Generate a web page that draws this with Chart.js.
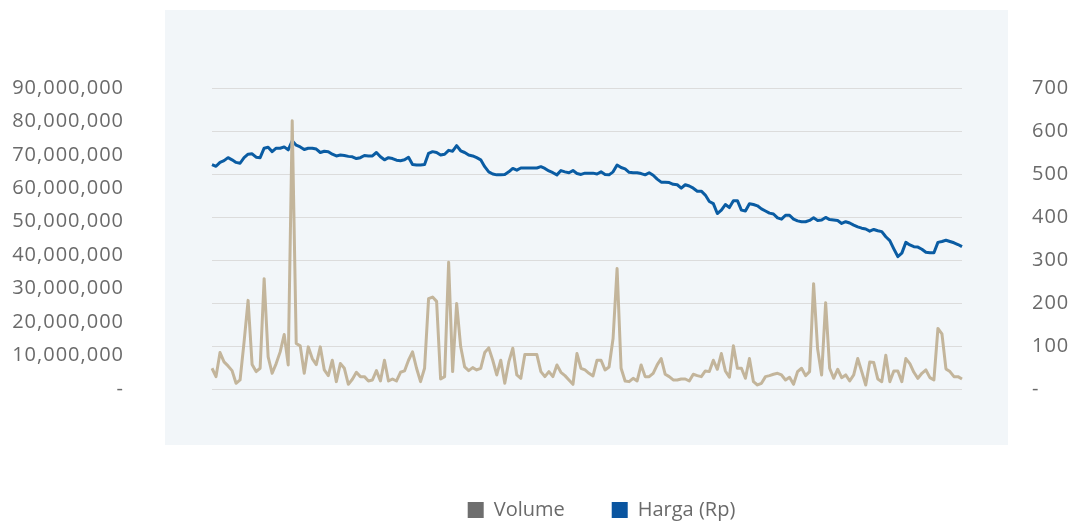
<!DOCTYPE html>
<html><head><meta charset="utf-8">
<script src="https://cdn.jsdelivr.net/npm/chart.js@4.4.1/dist/chart.umd.min.js"></script>
<style>html,body{margin:0;padding:0;background:#fff;overflow:hidden}#wrap{width:1071px;height:521px;position:relative}</style>
</head><body><div id="wrap"><canvas id="c"></canvas></div>
<script>
// Volume in millions of shares
const volumeMillions = [
  6.2,3.7,10.9,8.1,6.9,5.5,1.7,2.7,14.1,26.5,7.3,5.2,6.2,33.0,9.6,4.7,7.6,11.1,16.3,7.2,80.2,13.6,12.9,4.7,12.6,9.1,7.3,12.6,5.7,4.0,8.6,
  2.2,7.6,6.2,1.4,2.9,5.0,3.7,3.7,2.4,2.7,5.5,2.4,8.6,2.4,3.0,2.4,5.0,5.4,8.6,11.1,6.2,2.2,6.2,27.0,27.5,26.2,3.0,3.7,37.9,5.2,25.6,
  12.7,6.6,5.5,6.4,5.7,6.2,10.9,12.3,8.6,4.2,8.6,1.7,8.1,12.2,4.2,3.2,10.3,10.3,10.3,10.3,5.2,3.7,5.2,3.7,7.2,5.0,4.0,2.7,1.4,10.6,6.2,
  5.7,4.7,3.9,8.6,8.6,5.7,6.6,15.1,36.0,6.2,2.4,2.2,3.2,2.4,7.2,3.7,3.7,4.7,7.2,9.1,4.4,3.7,2.7,2.7,3.0,3.0,2.4,4.4,4.0,3.7,5.4,
  5.2,8.6,5.9,10.6,5.4,3.5,12.9,6.2,6.2,3.2,9.1,2.2,1.2,1.7,3.7,4.0,4.4,4.7,4.2,2.7,3.5,1.4,5.2,6.2,4.0,5.2,31.5,12.0,4.2,25.8,6.2,
  3.2,5.9,3.4,4.2,2.4,4.2,9.1,5.2,1.2,8.1,7.9,3.0,2.2,10.1,2.2,5.4,5.4,2.2,9.1,7.6,5.0,3.2,4.7,5.7,3.4,2.7,18.1,16.5,6.0,5.2,3.7,3.7,3.0
];
// Price (Rp)
const priceRp = [
  522,518,527,531,538,533,527,525,538,546,547,539,538,560,562,552,560,560,563,556,577,567,563,557,560,560,558,550,553,552,546,
  542,544,543,541,540,536,538,543,542,542,550,540,533,538,536,532,531,533,539,522,521,521,522,548,552,550,544,546,555,553,566,
  554,550,544,542,538,533,517,505,500,498,498,499,505,513,509,514,514,514,514,514,517,513,507,503,498,508,505,503,508,501,499,
  502,502,502,500,505,499,498,505,521,515,512,504,503,503,501,498,503,497,488,481,481,480,476,475,467,475,472,467,460,460,451,
  436,431,408,416,429,422,438,438,416,414,431,429,426,419,414,409,407,398,395,404,404,395,391,389,389,392,398,392,393,399,394,
  393,392,385,389,386,381,377,374,372,367,371,368,366,354,345,326,308,316,341,335,331,330,325,318,317,317,341,343,346,343,340,336,331
];
const tradingDays = volumeMillions.map((_, i) => String(i + 1));
const volumeTickValues = [0,10000000,20000000,30000000,40000000,50000000,60000000,70000000,80000000,90000000];
const priceTickValues = [0,100,200,300,400,500,600,700];
const seriesNames = ['Volume', 'Harga (Rp)'];

const FONT = {family: "'Open Sans', 'Noto Sans', sans-serif", size: 20};
const TEXT = '#6a6a6a';
const fmt = v => v === 0 ? '-' : Number(v).toLocaleString('en-US');

const panelPlugin = {
  id: 'panel',
  beforeDraw(chart) {
    const {ctx, chartArea: a} = chart;
    ctx.save();
    ctx.fillStyle = '#f2f6f9';
    const l = a.left - 47, t = a.top - 78, r = a.right + 46, b = a.bottom + 56;
    ctx.fillRect(l, t, r - l, b - t);
    ctx.restore();
  }
};
const legendShift = {
  id: 'legendShift',
  afterLayout(chart) {
    const lg = chart.legend;
    if (lg) { lg.top += 9; lg.bottom += 9; lg.left += 66; lg.right += 66; }
  }
};
const spacedAxisText = {
  id: 'spacedAxisText',
  afterUpdate(chart) {
    ['yVol', 'yPrice'].forEach(id => {
      const s = chart.scales[id];
      if (s && !s._spaced) {
        const orig = s.drawLabels.bind(s);
        s.drawLabels = function (area) {
          const ctx = this.ctx; ctx.save();
          try { ctx.letterSpacing = '1px'; } catch (e) {}
          orig(area); ctx.restore();
        };
        s._spaced = true;
      }
    });
  }
};

new Chart(document.getElementById('c'), {
  type: 'line',
  data: {
    labels: tradingDays,
    datasets: [
      {label: seriesNames[0], data: volumeMillions.map(v => v * 1e6), yAxisID: 'yVol',
       borderColor: '#c3b59b', backgroundColor: '#6e6e6e', borderWidth: 3, pointRadius: 0,
       tension: 0, borderJoinStyle: 'round', fill: false},
      {label: seriesNames[1], data: priceRp, yAxisID: 'yPrice',
       borderColor: '#0a5ca3', backgroundColor: '#0a55a0', borderWidth: 3, pointRadius: 0,
       tension: 0, borderJoinStyle: 'round', fill: false}
    ]
  },
  options: {
    responsive: true, maintainAspectRatio: false, animation: false,
    layout: {padding: {top: 88, left: 0, right: 0, bottom: 0}},
    plugins: {
      tooltip: {enabled: false},
      legend: {
        position: 'bottom',
        labels: {
          font: FONT, color: TEXT, boxWidth: 16, boxHeight: 16, padding: 47,
          generateLabels: (chart) => Chart.defaults.plugins.legend.labels.generateLabels(chart)
            .map(l => Object.assign(l, {lineWidth: 0, strokeStyle: 'rgba(0,0,0,0)'}))
        }
      }
    },
    scales: {
      x: {display: true, grid: {display: false, drawTicks: false}, border: {display: false},
          ticks: {display: false}, afterFit: s => { s.height = 55; }},
      yVol: {position: 'left', min: 0, max: 90000000,
             afterBuildTicks: s => { s.ticks = volumeTickValues.map(v => ({value: v})); },
             grid: {display: false, drawTicks: true, tickLength: 86, tickColor: 'rgba(0,0,0,0)'},
             border: {display: false},
             ticks: {font: FONT, color: TEXT, padding: 2, callback: fmt},
             afterFit: s => { s.width = 212; }},
      yPrice: {position: 'right', min: 0, max: 700,
             afterBuildTicks: s => { s.ticks = priceTickValues.map(v => ({value: v})); },
             grid: {display: true, color: '#dcdcdc', lineWidth: 1, drawTicks: true, tickLength: 68, tickColor: 'rgba(0,0,0,0)'},
             border: {display: false},
             ticks: {font: FONT, color: TEXT, padding: 2, callback: fmt},
             afterFit: s => { s.width = 109; }}
    }
  },
  plugins: [panelPlugin, legendShift, spacedAxisText]
});
</script></body></html>
